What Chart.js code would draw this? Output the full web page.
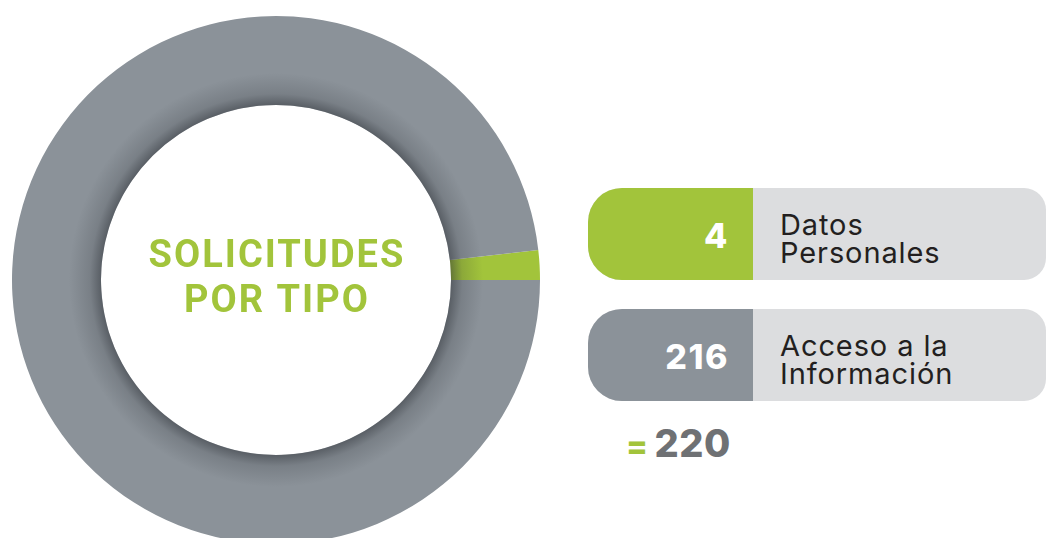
<!DOCTYPE html>
<html><head><meta charset="utf-8">
<script src="https://cdn.jsdelivr.net/npm/chart.js@4"></script>
<style>
html,body{margin:0;padding:0;background:#fff;width:1047px;height:538px;overflow:hidden;position:relative;font-family:Inter,"Open Sans",sans-serif;}
#wrap{position:absolute;left:0;top:0;width:552px;height:560px;}
.pill{position:absolute;left:588px;width:458px;height:92px;border-radius:34px 22px 22px 34px;overflow:hidden;background:#dcdddf;}
.pill .num{position:absolute;left:0;top:0;width:165px;height:100%;color:#fff;font-family:Inter,sans-serif;font-weight:800;font-size:34px;display:flex;align-items:center;justify-content:flex-end;padding-right:24px;box-sizing:border-box;letter-spacing:1.5px;padding-top:3px;}
.pill .lab{position:absolute;left:192px;top:0;height:100%;display:flex;flex-direction:column;justify-content:center;color:#231f20;font-size:29px;line-height:28px;letter-spacing:0.9px;font-family:Inter,sans-serif;padding-top:9px;box-sizing:border-box;}
#total{position:absolute;left:626px;top:420px;font-family:Inter,sans-serif;font-weight:800;font-size:38px;color:#6f7174;letter-spacing:0.5px;}
#total .eq{color:#a2c43b;margin-right:6px;font-size:32px;}
</style></head>
<body>
<div id="wrap"><canvas id="c" width="552" height="560"></canvas></div>
<div id="legend"></div>
<div id="total"></div>
<script>
const categories = ["Datos Personales", "Acceso a la Información"];
const labelLines = [["Datos", "Personales"], ["Acceso a la", "Información"]];
const values = [4, 216];
const colors = ["#a2c43b", "#8b9299"];
const title = ["SOLICITUDES", "POR TIPO"];

const total = values.reduce((a, b) => a + b, 0);

const innerShadow = {
  id: 'innerShadow',
  afterDatasetsDraw(chart) {
    const meta = chart.getDatasetMeta(0);
    const arc = meta.data[0];
    const {x, y, innerRadius, outerRadius} = arc.getProps(['x','y','innerRadius','outerRadius'], true);
    const ctx = chart.ctx;
    ctx.save();
    ctx.beginPath();
    ctx.arc(x, y, outerRadius, 0, Math.PI * 2);
    ctx.arc(x, y, innerRadius, 0, Math.PI * 2, true);
    ctx.clip();
    const g = ctx.createRadialGradient(x, y, innerRadius, x, y, innerRadius + 32);
    g.addColorStop(0, 'rgba(40,44,50,0.5)');
    g.addColorStop(0.35, 'rgba(40,44,50,0.18)');
    g.addColorStop(1, 'rgba(40,44,50,0)');
    ctx.fillStyle = g;
    ctx.fillRect(x - outerRadius, y - outerRadius, outerRadius * 2, outerRadius * 2);
    ctx.restore();
    // center title
    ctx.save();
    ctx.fillStyle = '#a2c43b';
    ctx.font = 'bold 38px Roboto, sans-serif';
    const ls = 2;
    ctx.letterSpacing = ls + 'px';
    ctx.textAlign = 'center';
    ctx.textBaseline = 'alphabetic';
    ctx.fillText(title[0], x + ls / 2, y - 13);
    ctx.fillText(title[1], x + ls / 2, y + 32);
    ctx.restore();
  }
};

new Chart(document.getElementById('c'), {
  type: 'doughnut',
  data: {
    labels: categories,
    datasets: [{ data: values, backgroundColor: colors, borderWidth: 0, hoverOffset: 0 }]
  },
  options: {
    responsive: false,
    animation: false,
    rotation: 90 - 360 * values[0] / total,
    cutout: '66.3%',
    layout: { padding: 12 },
    plugins: { legend: { display: false }, tooltip: { enabled: false } }
  },
  plugins: [innerShadow]
});

const legend = document.getElementById('legend');
const tops = [188, 309];
categories.forEach((c, i) => {
  const p = document.createElement('div');
  p.className = 'pill';
  p.style.top = tops[i] + 'px';
  p.innerHTML = '<div class="num" style="background:' + colors[i] + '">' + values[i] + '</div>' +
    '<div class="lab">' + labelLines[i].map(s => '<div>' + s + '</div>').join('') + '</div>';
  legend.appendChild(p);
});
document.getElementById('total').innerHTML = '<span class="eq">=</span>' + total;
</script>
</body></html>
